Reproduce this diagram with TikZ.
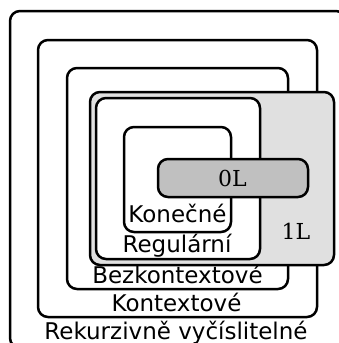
\documentclass[tikz,border=0pt]{standalone}
\usepackage{fontspec}
\setmainfont{DejaVu Serif}
\setsansfont{DejaVu Sans}
\begin{document}
\begin{tikzpicture}[x=1pt,y=-1pt,
  langbox/.style={draw=black, line width=2.5pt, rounded corners=10pt, fill=white},
  langlabel/.style={font=\sffamily\fontsize{23}{26}\selectfont, anchor=base, inner sep=0pt},
  classlabel/.style={font=\rmfamily\fontsize{22}{26}\selectfont, anchor=base, inner sep=0pt}]
  % page frame
  \clip (0,0) rectangle (339,343);
  % nested language classes, outermost first
  \path[langbox] (10,11) rectangle (346,348);
  \path[langbox] (38,40) rectangle (317,317);
  \path[langbox] (67,68) rectangle (288,289);
  \path[langbox, fill={rgb,255:red,224;green,224;blue,224}] (90,92) rectangle (334,265);
  \path[langbox] (96,98) rectangle (260,259);
  \path[langbox] (124,127) rectangle (231,232);
  \path[langbox, fill={rgb,255:red,192;green,192;blue,192}] (158,159) rectangle (308,197);
  % labels
  \node[classlabel] (zeroL) at (232.5,186) {0L};
  \node[classlabel] (oneL) at (296,239) {1L};
  \node[langlabel] (konecne) at (177.5,222) {Konečné};
  \node[langlabel] (regularni) at (177,252) {Regulární};
  \node[langlabel] (bezkont) at (177.5,283) {Bezkontextové};
  \node[langlabel] (kont) at (176.5,311) {Kontextové};
  \node[langlabel] (rekurz) at (176,339) {Rekurzivně vyčíslitelné};
\end{tikzpicture}
\end{document}
